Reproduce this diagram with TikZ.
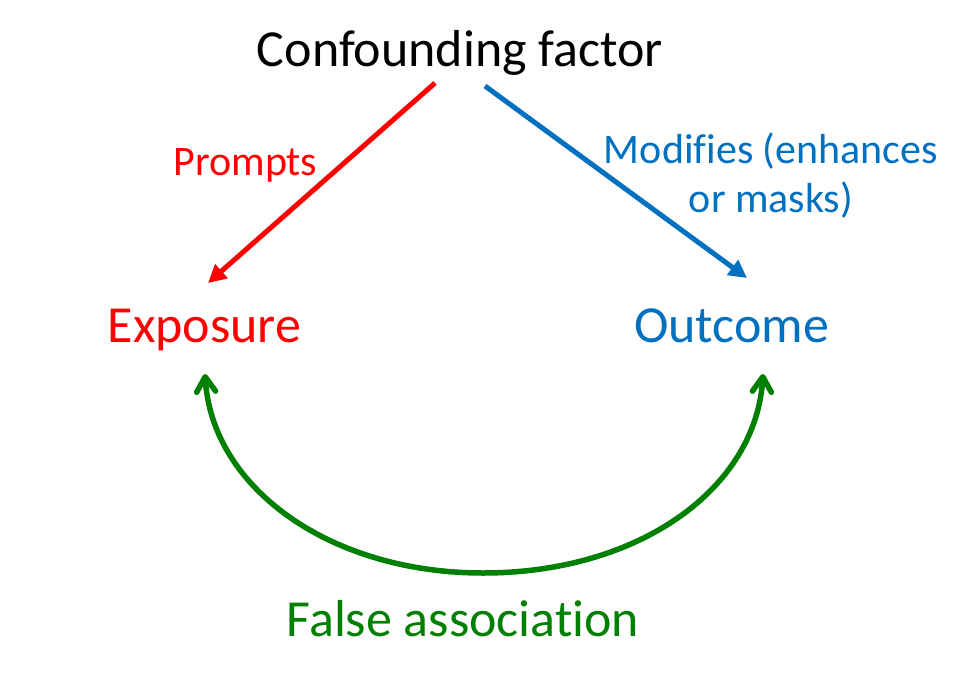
\documentclass[tikz,border=0pt]{standalone}
\usepackage{fontspec}
\setmainfont{Carlito}[Ligatures=NoCommon]
\usetikzlibrary{arrows.meta}
\definecolor{cred}{RGB}{255,0,0}
\definecolor{cblue}{RGB}{0,112,192}
\definecolor{cgreen}{RGB}{0,128,0}
\begin{document}
\begin{tikzpicture}[x=1pt,y=-1pt,
  big/.style={font=\fontsize{52}{62}\selectfont, inner sep=0pt, anchor=base},
  small/.style={font=\fontsize{42}{49}\selectfont, inner sep=0pt, anchor=base},
  solidarrow/.style={line width=5pt, -{Triangle[length=18pt,width=18pt]}},
  openarrow/.style={line width=5.5pt, cgreen, line cap=round, {Straight Barb[length=15pt,width=19pt,line cap=round,line join=round]}-{Straight Barb[length=15pt,width=19pt,line cap=round,line join=round]}}]
\fill[white] (0,0) rectangle (974,682);
\useasboundingbox (0,0) rectangle (974,682);
\node[big] (conf) at (460,67) {Confounding factor};
\node[big, text=cred] (expo) at (204.5,342) {Exposure};
\node[big, text=cblue] (outc) at (731.5,342) {Outcome};
\node[big, text=cgreen] (false) at (463,636) {False associat\kern0pt ion};
\node[small, text=cred] (prompts) at (245.5,175) {Prompts};
\node[small, text=cblue, align=center] (modif) at (771,212) {Modif\kern0pt ies (enhances\\or masks)};
\coordinate (rs) at (435,83);
\coordinate (re) at (208,283);
\coordinate (bs) at (485,86);
\coordinate (be) at (747,278);
\coordinate (gl) at (205,374);
\coordinate (gr) at (763,374);
\coordinate (gb) at (483,573);
\draw[solidarrow, cred] (rs) -- (re);
\draw[solidarrow, cblue] (bs) -- (be);
\draw[openarrow] (gl) .. controls (212,488) and (330,573) .. (gb)
  .. controls (640,573) and (756,488) .. (gr);
\end{tikzpicture}
\end{document}
